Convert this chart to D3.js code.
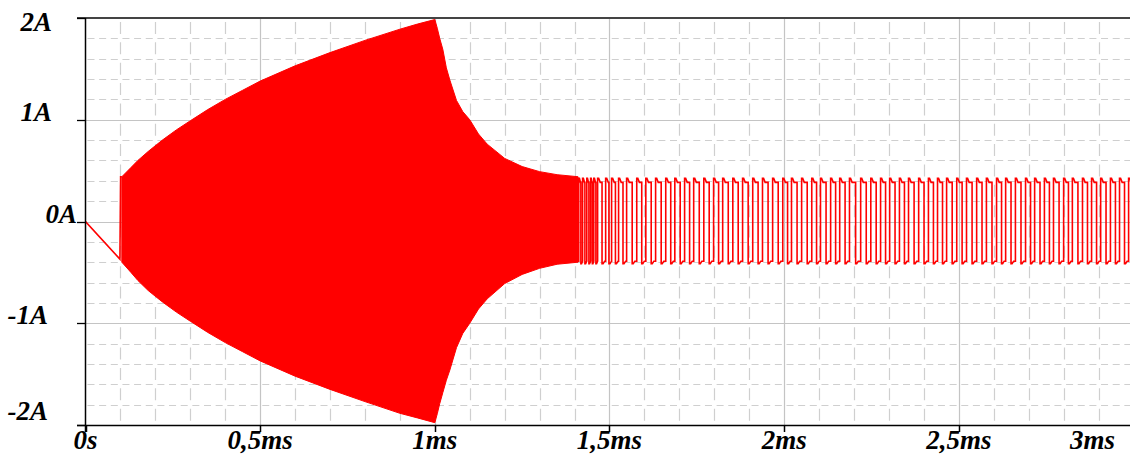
<!DOCTYPE html>
<html><head><meta charset="utf-8">
<script src="https://cdn.jsdelivr.net/npm/d3@7"></script>
<style>body{margin:0;background:#fff}svg{display:block}</style>
</head><body>
<svg id="chart" width="1130" height="455"></svg>
<script>
// ---- data ----
const xTickValues = [0, 0.5, 1, 1.5, 2, 2.5, 3];
const xTickLabels = ["0s", "0,5ms", "1ms", "1,5ms", "2ms", "2,5ms", "3ms"];
const yTickValues = [2, 1, 0, -1, -2];
const yTickLabels = ["2A", "1A", "0A", "-1A", "-2A"];

// initial ramp (ms, A)
const rampT = [0, 0.0985, 0.1005, 0.104];
const rampV = [0, -0.37, 0.44, 0.44];

// envelope of the dense oscillation (ms, A)
const envT  = [0.104, 0.13, 0.15, 0.18, 0.22, 0.26, 0.30, 0.35, 0.40, 0.45, 0.50, 0.60, 0.70, 0.80, 0.90, 0.95, 1.00,
               1.007, 1.014, 1.023, 1.033, 1.043, 1.062, 1.08, 1.10, 1.125, 1.15, 1.20, 1.25, 1.30, 1.35, 1.41];
const envHi = [0.44, 0.53, 0.60, 0.69, 0.80, 0.90, 0.99, 1.10, 1.20, 1.29, 1.38, 1.53, 1.66, 1.78, 1.89, 1.94, 1.985,
               1.90, 1.80, 1.69, 1.51, 1.39, 1.19, 1.08, 1.00, 0.86, 0.76, 0.62, 0.54, 0.49, 0.46, 0.44];
const envLo = [-0.40, -0.50, -0.58, -0.68, -0.79, -0.89, -0.98, -1.09, -1.19, -1.28, -1.37, -1.52, -1.65, -1.77, -1.885, -1.93, -1.977,
               -1.89, -1.79, -1.68, -1.56, -1.46, -1.24, -1.10, -1.00, -0.86, -0.76, -0.61, -0.52, -0.46, -0.42, -0.40];

// rising-edge times of the discrete pulses (ms)
const pulseRise = [1.412, 1.423, 1.435, 1.446, 1.455, 1.466, 1.489, 1.506, 1.526, 1.549, 1.578, 1.604, 1.632, 1.661, 1.687,
  1.715, 1.741, 1.770, 1.798, 1.824, 1.853, 1.881, 1.910, 1.938, 1.967, 1.996, 2.021, 2.050, 2.079, 2.104, 2.133, 2.159,
  2.187, 2.219, 2.248, 2.276, 2.302, 2.330, 2.356, 2.385, 2.413, 2.439, 2.465, 2.494, 2.522, 2.551, 2.579, 2.608, 2.634,
  2.662, 2.691, 2.717, 2.745, 2.771, 2.800, 2.825, 2.854, 2.880, 2.906, 2.934, 2.960, 2.986];
const pulseLevels = {peak: 0.425, high: 0.385, trough: -0.415, low: -0.39};
const pulseDuty = 0.55;

// ---- layout ----
const W = 1130, H = 455;
const x = d3.scaleLinear().domain([0, 2.99]).range([85.5, 1130]);
const y = d3.scaleLinear().domain([-2, 2]).range([425, 18]);
const svg = d3.select("#chart");

svg.append("defs").append("clipPath").attr("id", "clip")
  .append("rect").attr("x", 85.5).attr("y", 17).attr("width", W - 85.5).attr("height", 409);

const grid = svg.append("g");
// minor grid
const minorX = d3.range(1, 30).map(d => d / 10).filter(d => Math.abs(d * 2 - Math.round(d * 2)) > 1e-6);
const minorY = d3.range(-9, 10).map(d => d / 5).filter(d => Math.abs(d - Math.round(d)) > 1e-6);
grid.selectAll(".mx").data(minorX).join("line")
  .attr("x1", d => Math.round(x(d)) + 0.5).attr("x2", d => Math.round(x(d)) + 0.5)
  .attr("y1", y(2)).attr("y2", y(-2))
  .attr("stroke", "#cfcfcf").attr("stroke-width", 1.2).attr("stroke-dasharray", "12,8.35").attr("stroke-dashoffset", -4);
grid.selectAll(".my").data(minorY).join("line")
  .attr("y1", d => Math.round(y(d)) + 0.5).attr("y2", d => Math.round(y(d)) + 0.5)
  .attr("x1", x(0)).attr("x2", W)
  .attr("stroke", "#cfcfcf").attr("stroke-width", 1.2).attr("stroke-dasharray", "7,4.65").attr("stroke-dashoffset", -2);
// major grid
grid.selectAll(".Mx").data(xTickValues.filter(d => d > 0 && d < 2.99)).join("line")
  .attr("x1", d => Math.round(x(d)) + 0.5).attr("x2", d => Math.round(x(d)) + 0.5)
  .attr("y1", y(2)).attr("y2", y(-2)).attr("stroke", "#c4c4c4").attr("stroke-width", 1.2);
grid.selectAll(".My").data(yTickValues.filter(d => d > -2 && d < 2)).join("line")
  .attr("y1", d => Math.round(y(d)) + 0.5).attr("y2", d => Math.round(y(d)) + 0.5)
  .attr("x1", x(0)).attr("x2", W).attr("stroke", "#c4c4c4").attr("stroke-width", 1.2);

// ---- waveform ----
const wave = svg.append("g").attr("clip-path", "url(#clip)");
const line = d3.line().x(d => x(d[0])).y(d => y(d[1]));
const area = d3.area().x(d => x(d.t)).y0(d => y(d.lo)).y1(d => y(d.hi));

wave.append("path").datum(rampT.map((t, i) => [t, rampV[i]]))
  .attr("d", line).attr("fill", "none").attr("stroke", "#ff0000").attr("stroke-width", 1.6);

const envData = envT.map((t, i) => ({t, hi: envHi[i], lo: envLo[i]}));
wave.append("path").datum(envData).attr("d", area)
  .attr("fill", "#ff0000").attr("stroke", "#ff0000").attr("stroke-width", 1);

// pulse train
const pts = [[envT[envT.length - 1], pulseLevels.low]];
pulseRise.forEach((t0, i) => {
  const t1 = i < pulseRise.length - 1 ? pulseRise[i + 1] : t0 + (t0 - pulseRise[i - 1]);
  const per = t1 - t0;
  const d = Math.min(0.003, 0.18 * per);
  const tf = t0 + pulseDuty * per;
  pts.push([t0, pulseLevels.low], [t0, pulseLevels.peak], [t0 + d, pulseLevels.peak],
           [t0 + 2.5 * d, pulseLevels.high], [tf, pulseLevels.high],
           [tf, pulseLevels.trough], [tf + d, pulseLevels.trough], [tf + 2.5 * d, pulseLevels.low], [t1, pulseLevels.low]);
});
wave.append("path").datum(pts).attr("d", line)
  .attr("fill", "none").attr("stroke", "#ff0000").attr("stroke-width", 1.6).attr("stroke-linejoin", "miter");

// ---- axes / frame ----
const frame = svg.append("g");
frame.append("line").attr("x1", 77).attr("x2", W).attr("y1", y(2)).attr("y2", y(2))
  .attr("stroke", "#444").attr("stroke-width", 2);
frame.append("line").attr("x1", 77).attr("x2", W).attr("y1", y(-2) + 0.5).attr("y2", y(-2) + 0.5)
  .attr("stroke", "#000").attr("stroke-width", 1.5);
frame.append("line").attr("x1", x(0)).attr("x2", x(0)).attr("y1", y(2)).attr("y2", y(-2) + 7)
  .attr("stroke", "#000").attr("stroke-width", 1.5);
// y ticks
frame.selectAll(".yt").data(yTickValues).join("line")
  .attr("x1", 77).attr("x2", x(0)).attr("y1", d => Math.round(y(d)) + 0.5).attr("y2", d => Math.round(y(d)) + 0.5)
  .attr("stroke", "#000").attr("stroke-width", 1.3);
// x ticks
frame.selectAll(".xt").data(xTickValues.filter(d => d <= 2.99)).join("line")
  .attr("x1", d => Math.round(x(d)) + 0.5).attr("x2", d => Math.round(x(d)) + 0.5)
  .attr("y1", y(-2)).attr("y2", y(-2) + 7)
  .attr("stroke", "#000").attr("stroke-width", 1.5);

const fontStyle = s => s.style("font-family", "\"Liberation Serif\", \"DejaVu Serif\", serif")
  .style("font-weight", "bold").style("font-style", "italic").style("font-size", "27px").attr("fill", "#000");

svg.selectAll(".yl").data(yTickValues).join("text").call(fontStyle)
  .attr("text-anchor", "end")
  .attr("x", d => d === 0 ? 77 : (d > 0 ? 52 : 48))
  .attr("y", d => Math.min(420, Math.max(31, y(d) + 1)))
  .text((d, i) => yTickLabels[i]);

svg.selectAll(".xl").data(xTickValues).join("text").call(fontStyle)
  .attr("text-anchor", d => x(d) + 30 > W ? "end" : "middle")
  .attr("x", d => x(d) + 30 > W ? 1115 : x(d))
  .attr("y", 449)
  .text((d, i) => xTickLabels[i]);
</script>
</body></html>
